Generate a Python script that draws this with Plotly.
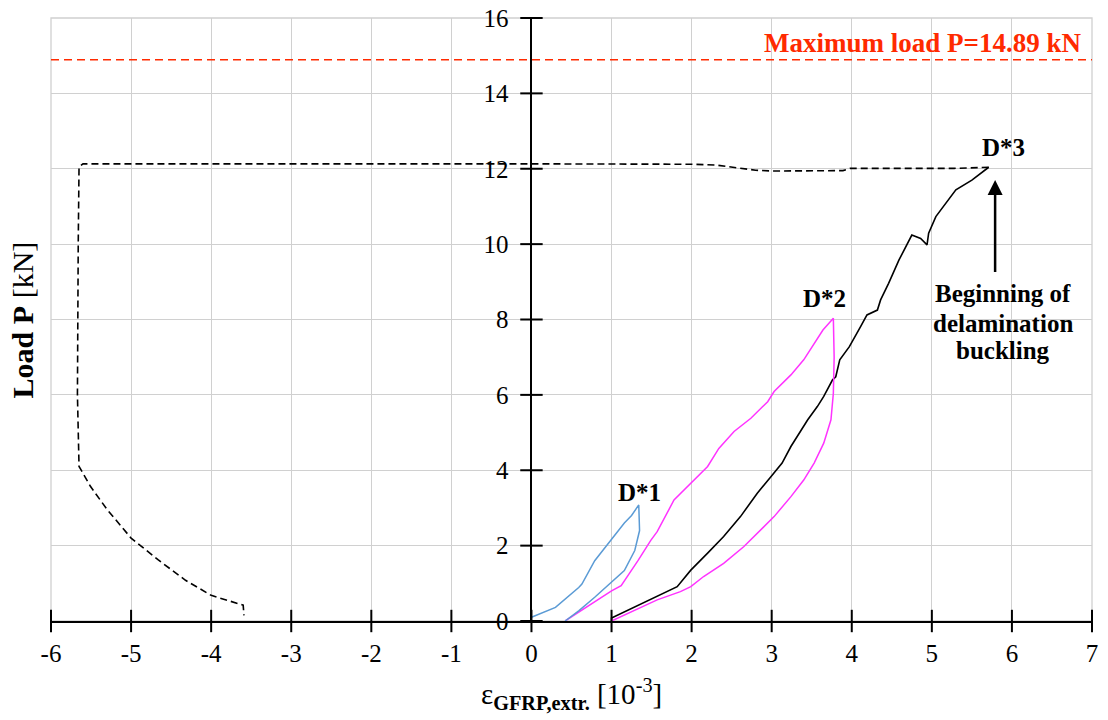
import plotly.graph_objects as go

# ---------------- data ----------------
x_ticks = [-6, -5, -4, -3, -2, -1, 0, 1, 2, 3, 4, 5, 6, 7]
x_tick_labels = ["-6", "-5", "-4", "-3", "-2", "-1", "0", "1", "2", "3", "4", "5", "6", "7"]
y_ticks = [0, 2, 4, 6, 8, 10, 12, 14, 16]
y_tick_labels = ["0", "2", "4", "6", "8", "10", "12", "14", "16"]

p_max = 14.89

# D*1 cycle (blue)
d1_x = [0.0, 0.30, 0.59, 0.63, 0.79, 0.92, 1.04, 1.16, 1.25, 1.34,
        1.35, 1.29, 1.16, 1.00, 0.79, 0.59, 0.42]
d1_y = [0.10, 0.36, 0.89, 0.98, 1.60, 1.96, 2.30, 2.60, 2.80, 3.08,
        2.40, 1.87, 1.34, 1.03, 0.63, 0.27, 0.00]

# D*2 cycle (magenta)
d2_x = [0.42, 1.00, 1.12, 1.33, 1.49, 1.57, 1.78, 1.99, 2.20, 2.34, 2.53, 2.74,
        2.95, 3.03, 3.24, 3.40, 3.48, 3.64, 3.77,
        3.78, 3.77, 3.74, 3.65, 3.53, 3.40, 3.24, 3.03, 2.82, 2.65, 2.40,
        2.15, 1.99, 1.86, 1.57, 1.00]
d2_y = [0.00, 0.80, 0.94, 1.60, 2.14, 2.37, 3.21, 3.65, 4.10, 4.58, 5.03, 5.38,
        5.82, 6.09, 6.53, 6.93, 7.19, 7.72, 8.03,
        7.00, 6.04, 5.34, 4.72, 4.19, 3.74, 3.30, 2.77, 2.33, 1.97, 1.53,
        1.18, 0.91, 0.78, 0.56, 0.00]

# D*3 loading (black, solid)
d3_x = [1.00, 1.00, 1.82, 1.99, 2.20, 2.40, 2.61, 2.82, 2.99, 3.13, 3.24, 3.32,
        3.45, 3.57, 3.65, 3.76, 3.80, 3.85, 3.97, 4.11, 4.19, 4.32, 4.36, 4.46,
        4.59, 4.75, 4.86, 4.94, 4.96, 5.05, 5.17, 5.30, 5.50, 5.71]
d3_y = [0.00, 0.08, 0.91, 1.35, 1.80, 2.24, 2.77, 3.39, 3.83, 4.19, 4.63, 4.89,
        5.34, 5.69, 5.96, 6.40, 6.48, 6.93, 7.28, 7.81, 8.12, 8.25, 8.52, 8.96,
        9.58, 10.24, 10.15, 9.98, 10.29, 10.73, 11.08, 11.44, 11.70, 12.04]

# compression side (black, dashed)
dc_x = [5.71, 5.28, 3.98, 3.89, 3.00, 2.80, 2.30, 2.00, 0.00, -5.60, -5.65,
        -5.66, -5.67, -5.65, -5.63, -5.51, -5.30, -5.00, -4.66, -4.32, -4.00,
        -3.60, -3.59]
dc_y = [12.04, 12.01, 12.01, 11.95, 11.94, 11.96, 12.10, 12.12, 12.13, 12.13,
        12.05, 10.00, 6.00, 4.10, 4.03, 3.58, 2.96, 2.20, 1.62, 1.08, 0.68,
        0.42, 0.15]

FONT = "Liberation Serif, Times New Roman, serif"

fig = go.Figure()

# max load line
fig.add_trace(go.Scatter(x=[x_ticks[0], x_ticks[-1]], y=[p_max, p_max], mode="lines",
                         line=dict(color="#FF2A00", width=1.5, dash="8px,5px"),
                         hoverinfo="skip", showlegend=False))

fig.add_trace(go.Scatter(x=dc_x, y=dc_y, mode="lines",
                         line=dict(color="black", width=1.6, dash="7px,4px"),
                         showlegend=False))
fig.add_trace(go.Scatter(x=d3_x, y=d3_y, mode="lines",
                         line=dict(color="black", width=1.6), showlegend=False))
fig.add_trace(go.Scatter(x=d2_x, y=d2_y, mode="lines",
                         line=dict(color="#FF33FF", width=1.5), showlegend=False))
fig.add_trace(go.Scatter(x=d1_x, y=d1_y, mode="lines",
                         line=dict(color="#5B9BD5", width=1.5), showlegend=False))

# crossing tick marks
fig.add_trace(go.Scatter(x=x_ticks, y=[0] * len(x_ticks), mode="markers",
                         marker=dict(symbol="line-ns", size=16,
                                     line=dict(color="black", width=2)),
                         cliponaxis=False, hoverinfo="skip", showlegend=False))
fig.add_trace(go.Scatter(x=[0] * len(y_ticks), y=y_ticks, mode="markers",
                         marker=dict(symbol="line-ew", size=16,
                                     line=dict(color="black", width=2)),
                         cliponaxis=False, hoverinfo="skip", showlegend=False))

x0_frac = (0 - x_ticks[0]) / (x_ticks[-1] - x_ticks[0])

fig.update_layout(
    width=1100, height=712,
    margin=dict(l=43, r=16, t=10, b=99, autoexpand=False),
    paper_bgcolor="white", plot_bgcolor="white",
    font=dict(family=FONT, color="black", size=25),
    xaxis=dict(range=[x_ticks[0], x_ticks[-1]], tickvals=x_ticks, ticktext=x_tick_labels,
               automargin=False, ticklabeloverflow="allow",
               showgrid=True, gridcolor="#D0D0D0", gridwidth=1.3,
               showline=True, linecolor="black", linewidth=2,
               ticks="outside", ticklen=8, tickcolor="rgba(0,0,0,0)",
               ticklabelstandoff=1,
               tickfont=dict(family=FONT, size=25, color="black"),
               zeroline=False),
    yaxis=dict(range=[y_ticks[0], y_ticks[-1]], tickvals=y_ticks, ticktext=y_tick_labels,
               automargin=False, ticklabeloverflow="allow",
               anchor="free", position=x0_frac,
               showgrid=True, gridcolor="#D0D0D0", gridwidth=1.3,
               showline=True, linecolor="black", linewidth=2,
               ticks="outside", ticklen=8, tickcolor="rgba(0,0,0,0)",
               ticklabelstandoff=9,
               tickfont=dict(family=FONT, size=25, color="black"),
               zeroline=False),
    shapes=[dict(type="rect", xref="paper", yref="paper", x0=0, x1=1, y0=0, y1=1,
                 line=dict(color="#D0D0D0", width=1.3), layer="below")],
)

ann_font = dict(family=FONT, size=25, color="black")
annotations = [
    dict(x=6.89, y=15.33, xref="x", yref="y", xanchor="right", yanchor="middle",
         text="<b>Maximum load P=14.89 kN</b>", showarrow=False,
         font=dict(family=FONT, size=27, color="#FF2A00")),
    dict(x=1.35, y=3.42, xref="x", yref="y", text="<b>D*1</b>", showarrow=False, font=ann_font),
    dict(x=3.66, y=8.55, xref="x", yref="y", text="<b>D*2</b>", showarrow=False, font=ann_font),
    dict(x=5.89, y=12.57, xref="x", yref="y", text="<b>D*3</b>", showarrow=False, font=ann_font),
    dict(x=5.79, y=11.7, ax=5.79, ay=9.22, xref="x", yref="y", axref="x", ayref="y",
         text="", showarrow=True, arrowhead=2, arrowsize=1.2, arrowwidth=2.5,
         arrowcolor="black"),
    dict(x=5.89, y=8.70, xref="x", yref="y", text="<b>Beginning of</b>", showarrow=False, font=ann_font),
    dict(x=5.89, y=7.90, xref="x", yref="y", text="<b>delamination</b>", showarrow=False, font=ann_font),
    dict(x=5.89, y=7.19, xref="x", yref="y", text="<b>buckling</b>", showarrow=False, font=ann_font),
    dict(x=-0.027, y=0.5, xref="paper", yref="paper", xanchor="center", yanchor="middle",
         text="<b>Load P</b> [kN]",
         textangle=-90, showarrow=False, font=dict(family=FONT, size=30, color="black")),
    dict(x=0.5, y=-0.158, xref="paper", yref="paper", xanchor="center", yanchor="bottom",
         text="ε<sub><b>GFRP,extr.</b></sub> [10<sup>-3</sup>]",
         showarrow=False, font=dict(family=FONT, size=29, color="black")),
]
fig.update_layout(annotations=annotations)

fig.write_html("out.html")
